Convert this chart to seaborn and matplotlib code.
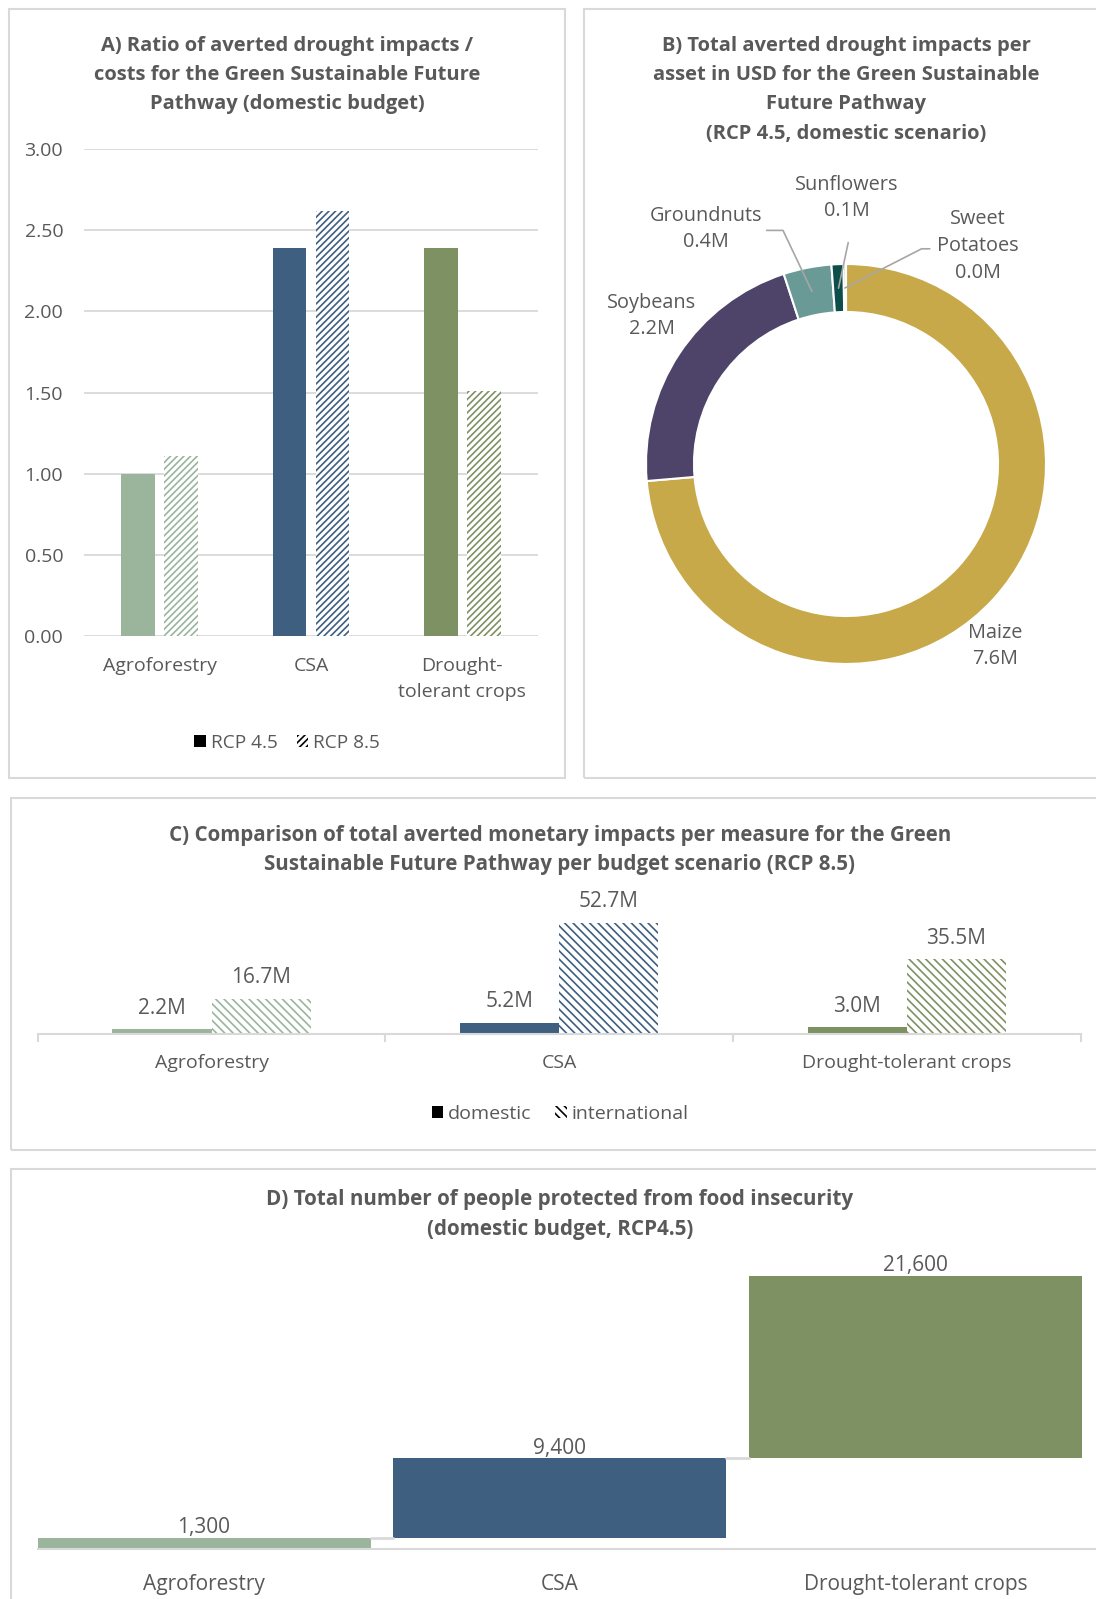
import matplotlib
matplotlib.use("Agg")
import matplotlib.pyplot as plt
from matplotlib.patches import Rectangle, Patch
import seaborn as sns
import pandas as pd
import numpy as np

sns.set_theme(style="white")
plt.rcParams['font.family'] = ['Open Sans', 'DejaVu Sans']
plt.rcParams['hatch.linewidth'] = 1.2

# ---------------- data ----------------
measures = ["Agroforestry", "CSA", "Drought-tolerant crops"]
measure_colors = ["#9BB59D", "#3E5F80", "#7E9162"]

# A) benefit/cost ratio, domestic budget
ratio_rcp45 = [1.00, 2.39, 2.39]
ratio_rcp85 = [1.11, 2.62, 1.51]
a_xlabels = ["Agroforestry", "CSA", "Drought-\ntolerant crops"]
a_yticks = [0.0, 0.5, 1.0, 1.5, 2.0, 2.5, 3.0]

# B) averted impacts per asset (million USD)
crops = ["Maize", "Soybeans", "Groundnuts", "Sunflowers", "Sweet\nPotatoes"]
crop_values = [7.6, 2.2, 0.4, 0.1, 0.02]
crop_colors = ["#C8A94A", "#4E4469", "#6A9A96", "#0D4D4A", "#8FB3AE"]

# C) averted monetary impacts per budget scenario (million USD)
averted_domestic = [2.2, 5.2, 3.0]
averted_international = [16.7, 52.7, 35.5]

# D) people protected from food insecurity
people_protected = [1300, 9400, 21600]

# ---------------- layout helpers ----------------
W, H = 1096, 1599
TXT = "#595959"
GRID = "#D9D9D9"
HATCH_A = "/////"
HATCH_C = "\\\\\\\\"
fig = plt.figure(figsize=(W / 100, H / 100), dpi=100)


def axes_px(x0, y0, x1, y1):
    return fig.add_axes([x0 / W, 1 - y1 / H, (x1 - x0) / W, (y1 - y0) / H])


def frame(x0, y0, x1, y1):
    fig.patches.append(Rectangle((x0 / W, 1 - y1 / H), (x1 - x0) / W, (y1 - y0) / H,
                                 transform=fig.transFigure, fill=False,
                                 edgecolor=GRID, lw=1.5, clip_on=False))


def title(lines, xc, y0, step, size=14.5):
    for i, line in enumerate(lines):
        fig.text(xc / W, 1 - (y0 + i * step) / H, line, ha="center", va="center",
                 fontsize=size, fontweight="bold", color=TXT)


def hatch_bar(bar, color, pattern):
    bar.set_facecolor("white")
    bar.set_edgecolor(color)
    bar.set_linewidth(0)
    bar.set_hatch(pattern)


def clean(ax):
    for s in ax.spines.values():
        s.set_visible(False)
    ax.set_xlabel("")
    ax.set_ylabel("")


frame(9, 9, 565, 778)
frame(584, 9, 1120, 778)
frame(11, 798, 1120, 1150)
frame(11, 1169, 1120, 1640)

# ---------------- A ----------------
title(["A) Ratio of averted drought impacts /",
       "costs for the Green Sustainable Future",
       "Pathway (domestic budget)"], 287, 45.5, 29.5)

axA = axes_px(84, 149, 538, 636)
dfA = pd.DataFrame({"measure": measures * 2,
                    "scenario": ["RCP 4.5"] * 3 + ["RCP 8.5"] * 3,
                    "ratio": ratio_rcp45 + ratio_rcp85})
sns.barplot(data=dfA, x="measure", y="ratio", hue="scenario", order=measures,
            hue_order=["RCP 4.5", "RCP 8.5"], width=0.57, gap=0.22,
            errorbar=None, legend=False, ax=axA)
for j, bar in enumerate(axA.containers[0]):
    bar.set_facecolor(measure_colors[j])
    bar.set_edgecolor("none")
for j, bar in enumerate(axA.containers[1]):
    hatch_bar(bar, measure_colors[j], HATCH_A)
clean(axA)
axA.set_ylim(0, 3)
axA.set_xlim(-0.5, 2.5)
axA.set_yticks(a_yticks)
axA.set_yticklabels([f"{t:.2f}" for t in a_yticks])
axA.yaxis.grid(True, color=GRID, lw=1.3)
axA.set_axisbelow(True)
axA.set_xticks(range(3))
axA.set_xticklabels(a_xlabels, linespacing=1.55)
axA.tick_params(axis="both", length=0, labelsize=14, colors=TXT)
axA.tick_params(axis="x", pad=15)
axA.tick_params(axis="y", pad=15)

legA = [Patch(facecolor="black", edgecolor="black", lw=0, label="RCP 4.5"),
        Patch(facecolor="white", edgecolor="black", lw=0, hatch=HATCH_A, label="RCP 8.5")]
axA.legend(handles=legA, loc="center", bbox_to_anchor=(287 / W, 1 - 743 / H),
           bbox_transform=fig.transFigure, ncol=2, frameon=False, fontsize=13.7,
           handlelength=0.6, handleheight=0.6, handletextpad=0.25,
           columnspacing=1.0, labelcolor=TXT)

# ---------------- B ----------------
title(["B) Total averted drought impacts per",
       "asset in USD for the Green Sustainable",
       "Future Pathway",
       "(RCP 4.5, domestic scenario)"], 846, 45.5, 29.5)

axB = axes_px(646, 264, 1046, 664)
axB.pie(crop_values, colors=crop_colors, startangle=90, counterclock=False, radius=1,
        wedgeprops=dict(width=0.24, edgecolor="white", linewidth=1.5))
axB.set_xlim(-1, 1)
axB.set_ylim(-1, 1)
axB.set_aspect("equal")
axB.axis("off")

total = sum(crop_values)
cum = np.cumsum([0] + crop_values[:-1])
mid_pts = []
for c, v in zip(cum, crop_values):
    ang = np.deg2rad(90 - 360 * (c + v / 2) / total)
    mid_pts.append((0.88 * np.cos(ang), 0.88 * np.sin(ang)))

label_pos = [(0.745, -0.91), (-0.97, 0.74), (-0.70, 1.175), (0.005, 1.33), (0.66, 1.09)]
leader_knees = [None, None,
                [(-0.397, 1.168), (-0.315, 1.168)],
                [(0.011, 1.107)],
                [(0.419, 1.076), (0.378, 1.076)]]
for name, v, pos, knee, mp in zip(crops, crop_values, label_pos, leader_knees, mid_pts):
    axB.text(pos[0], pos[1], f"{name}\n{v:.1f}M", ha="center", va="center",
             fontsize=14.3, color=TXT, linespacing=1.45)
    if knee is not None:
        pts = knee + [mp]
        axB.plot([p[0] for p in pts], [p[1] for p in pts], color="#A6A6A6",
                 lw=1.2, clip_on=False)

# ---------------- C ----------------
title(["C) Comparison of total averted monetary impacts per measure for the Green",
       "Sustainable Future Pathway per budget scenario (RCP 8.5)"], 560, 835, 29.5,
      size=14.8)

axC = axes_px(37.7, 1033.8 - 164.6, 1080.7, 1033.8)
dfC = pd.DataFrame({"measure": measures * 2,
                    "budget": ["domestic"] * 3 + ["international"] * 3,
                    "usd_m": averted_domestic + averted_international})
sns.barplot(data=dfC, x="measure", y="usd_m", hue="budget", order=measures,
            hue_order=["domestic", "international"], width=0.57, gap=0,
            errorbar=None, legend=False, ax=axC)
for j, bar in enumerate(axC.containers[0]):
    bar.set_facecolor(measure_colors[j])
    bar.set_edgecolor("none")
for j, bar in enumerate(axC.containers[1]):
    hatch_bar(bar, measure_colors[j], HATCH_C)
for cont in axC.containers:
    for bar in cont:
        axC.annotate(f"{bar.get_height():.1f}M",
                     (bar.get_x() + bar.get_width() / 2, bar.get_height()),
                     xytext=(0, 15), textcoords="offset points",
                     ha="center", va="center", fontsize=15, color=TXT)
clean(axC)
axC.spines["bottom"].set_visible(True)
axC.spines["bottom"].set_color(GRID)
axC.spines["bottom"].set_linewidth(1.5)
axC.set_ylim(0, 78)
axC.set_xlim(-0.5, 2.5)
axC.set_yticks([])
axC.set_xticks(range(3))
axC.set_xticklabels(measures)
axC.set_xticks([-0.5, 0.5, 1.5, 2.5], minor=True)
axC.tick_params(axis="x", which="major", length=0, labelsize=14, colors=TXT, pad=14.5)
axC.tick_params(axis="x", which="minor", length=6, width=1.5, color=GRID, direction="out")
axC.tick_params(axis="x", which="both", bottom=True)

legC = [Patch(facecolor="black", edgecolor="black", lw=0, label="domestic"),
        Patch(facecolor="white", edgecolor="black", lw=0, hatch=HATCH_C, label="international")]
axC.legend(handles=legC, loc="center", bbox_to_anchor=(560 / W, 1 - 1114 / H),
           bbox_transform=fig.transFigure, ncol=2, frameon=False, fontsize=14,
           handlelength=0.6, handleheight=0.6, handletextpad=0.25,
           columnspacing=1.2, labelcolor=TXT)

# ---------------- D ----------------
title(["D) Total number of people protected from food insecurity",
       "(domestic budget, RCP4.5)"], 560, 1200, 29.5, size=14.9)

axD = axes_px(37.7, 1548.6 - 299.2, 1096, 1548.6)
dfD = pd.DataFrame({"measure": measures, "people": people_protected})
sns.barplot(data=dfD, x="measure", y="people", hue="measure", order=measures,
            palette=measure_colors, width=0.937, errorbar=None, legend=False,
            saturation=1, ax=axD)
bottoms = np.cumsum([0] + people_protected[:-1])
bars = sorted(axD.patches, key=lambda p: p.get_x())
for bar, b in zip(bars, bottoms):
    bar.set_y(b)
    bar.set_edgecolor("none")
for i in range(len(bars) - 1):
    level = bottoms[i] + people_protected[i]
    x0 = bars[i].get_x() + bars[i].get_width()
    x1 = bars[i + 1].get_x()
    axD.plot([x0, x1], [level, level], color=GRID, lw=2)
for bar, b, v in zip(bars, bottoms, people_protected):
    axD.annotate(f"{v:,}", (bar.get_x() + bar.get_width() / 2, b + v),
                 xytext=(0, 7.5), textcoords="offset points",
                 ha="center", va="center", fontsize=15, color=TXT)
clean(axD)
axD.spines["bottom"].set_visible(True)
axD.spines["bottom"].set_color(GRID)
axD.spines["bottom"].set_linewidth(1.5)
axD.set_ylim(0, 35500)
axD.set_xlim(-0.467, 2.507)
axD.set_yticks([])
axD.set_xticks(range(3))
axD.set_xticklabels(measures)
axD.tick_params(axis="x", length=0, labelsize=15, colors=TXT, pad=18)

fig.savefig("out.png", dpi=100)
